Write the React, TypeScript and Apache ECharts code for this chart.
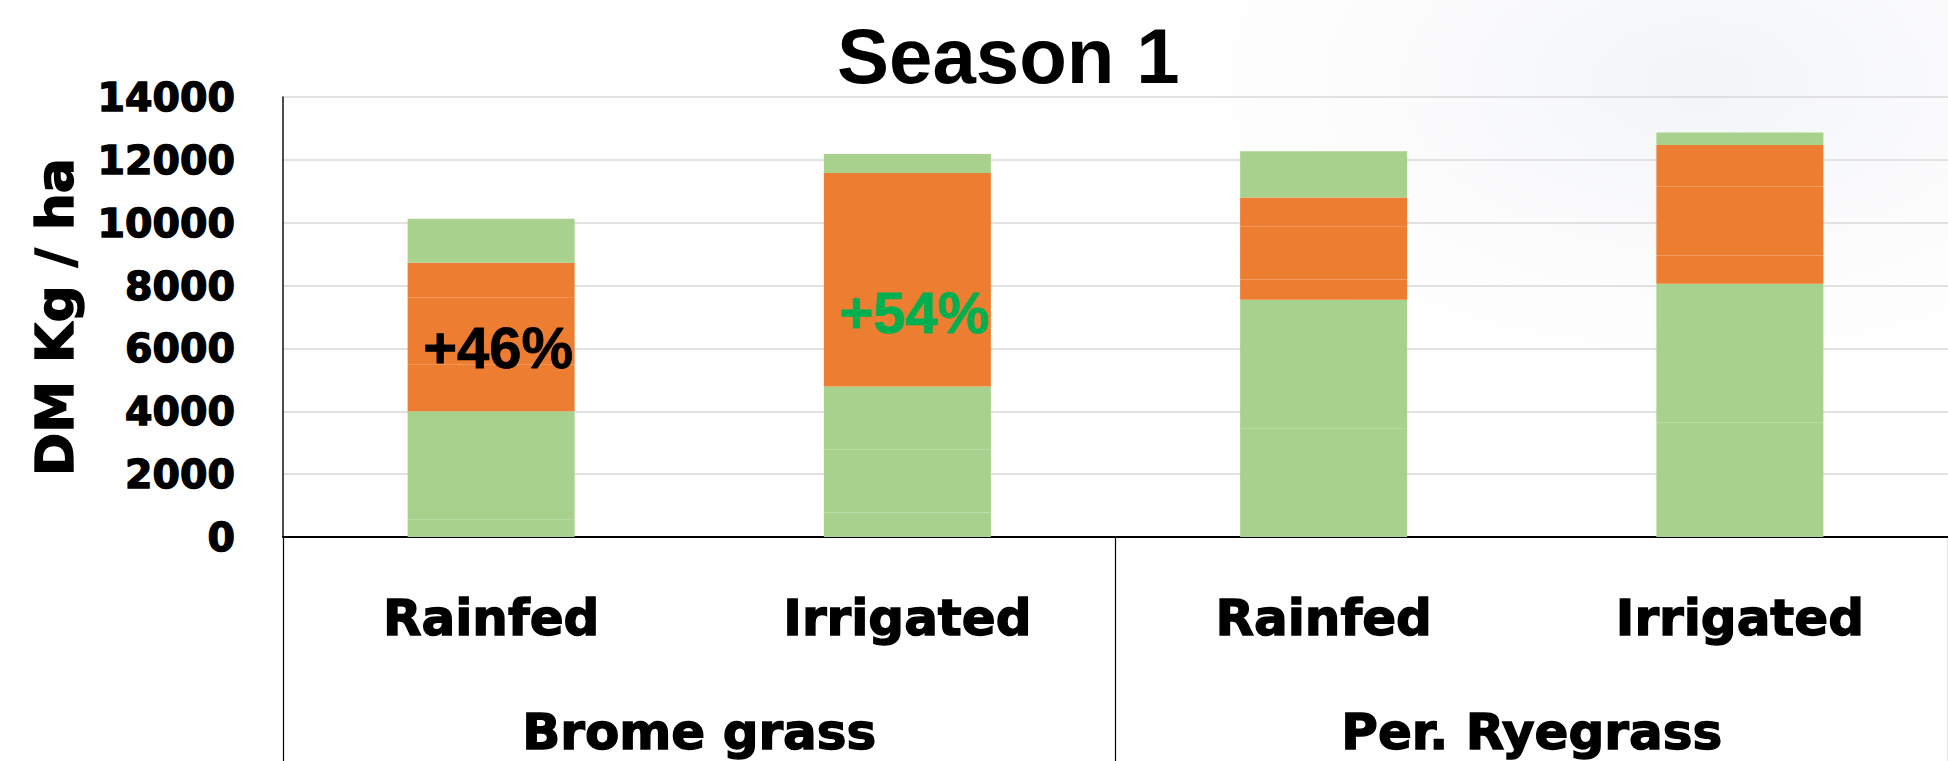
import React, { useEffect, useRef } from "react";
import * as echarts from "echarts";

const treatments = ["Rainfed", "Irrigated", "Rainfed", "Irrigated"];
const grasses = ["Brome grass", "Per. Ryegrass"];
const yTicks = [0, 2000, 4000, 6000, 8000, 10000, 12000, 14000];

// Stacked segments (DM kg/ha), bottom to top
const cut1 = [550, 780, 3460, 3650];
const cut2 = [1740, 2010, 2680, 2810];
const cut3 = [1710, 2000, 1410, 1600];
const cut4 = [1480, 1700, 640, 900];
const cut5 = [2130, 3020, 1700, 2190];
const cut6 = [1120, 2070, 910, 1320];
const cut7 = [1400, 610, 1470, 400];
const segments = [cut1, cut2, cut3, cut4, cut5, cut6, cut7];
const segmentColors = ["#a9d18e", "#a9d18e", "#a9d18e", "#ed7d31", "#ed7d31", "#ed7d31", "#a9d18e"];

const gainLabels = ["+46%", "+54%"];
const gainColors = ["#000000", "#00b050"];
const gainPos = [6020, 7140];

const LABEL_FONT = "'DejaVu Sans', sans-serif";
const TITLE_FONT = "'Liberation Sans', Arial, sans-serif";

export default function App() {
  const ref = useRef<HTMLDivElement>(null);
  useEffect(() => {
    document.body.style.margin = "0";
    if (!ref.current) return;
    const chart = echarts.init(ref.current, null, { renderer: "svg" });
    const series: any[] = segments.map((vals, i) => ({
      name: "Cut " + (i + 1),
      type: "bar",
      stack: "total",
      barWidth: 167,
      data: vals,
      itemStyle: {
        color: segmentColors[i],
        borderWidth: 0,
      },
      emphasis: { disabled: true },
    }));
    series[4].markPoint = {
      symbol: "circle",
      symbolSize: 1,
      itemStyle: { color: "rgba(0,0,0,0)" },
      data: gainLabels.map((t, i) => ({
        coord: [i, gainPos[i]],
        label: {
          show: true,
          position: "inside",
          offset: [7, 0],
          formatter: t,
          color: gainColors[i],
          fontSize: 58,
          fontWeight: "bold",
          fontFamily: TITLE_FONT,
          textBorderColor: gainColors[i],
          textBorderWidth: 0.8,
        },
      })),
    };
    const boldText = { fontWeight: "bold", fontFamily: LABEL_FONT, color: "#000", textBorderColor: "#000", textBorderWidth: 1.4 };
    chart.setOption({
      animation: false,
      backgroundColor: "#ffffff",
      title: {
        text: "Season 1",
        left: 832,
        top: 12,
        textStyle: { fontSize: 78, fontWeight: "bold", fontFamily: TITLE_FONT, color: "#000" },
      },
      graphic: [
        {
          type: "ellipse",
          z: -10,
          silent: true,
          shape: { cx: 1700, cy: 80, rx: 560, ry: 320 },
          style: {
            fill: new echarts.graphic.RadialGradient(0.5, 0.5, 0.5, [
              { offset: 0, color: "rgba(228,231,237,0.45)" },
              { offset: 1, color: "rgba(240,242,246,0)" },
            ]),
          },
        },
      ],
      grid: { left: 283, top: 97, width: 1675, height: 440, containLabel: false },
      xAxis: [
        {
          type: "category",
          data: treatments,
          position: "bottom",
          axisLine: { show: true, onZero: false, lineStyle: { color: "#000", width: 2.2 } },
          axisTick: { show: false },
          axisLabel: { interval: 0, margin: 56, fontSize: 50, ...boldText },
        },
        {
          type: "category",
          data: grasses,
          position: "bottom",
          axisLine: { show: false },
          axisTick: { show: true, interval: 0, length: 230, lineStyle: { color: "#000", width: 1.2 } },
          axisLabel: { interval: 0, margin: 170, fontSize: 50, ...boldText },
        },
      ],
      yAxis: {
        type: "value",
        min: yTicks[0],
        max: yTicks[yTicks.length - 1],
        interval: 2000,
        name: "DM Kg / ha",
        nameLocation: "middle",
        nameRotate: 90,
        nameGap: 202,
        nameTextStyle: { fontSize: 52, ...boldText },
        axisLine: { show: true, lineStyle: { color: "#111", width: 1.5 } },
        axisTick: { show: false },
        splitLine: { show: true, lineStyle: { color: "#d9d9d9", width: 1.6 } },
        axisLabel: {
          margin: 48,
          fontSize: 39.5,
          formatter: (v: number) => String(v),
          ...boldText,
        },
      },
      series,
    });
    return () => chart.dispose();
  }, []);
  return <div ref={ref} style={{ width: 1948, height: 761 }} />;
}
